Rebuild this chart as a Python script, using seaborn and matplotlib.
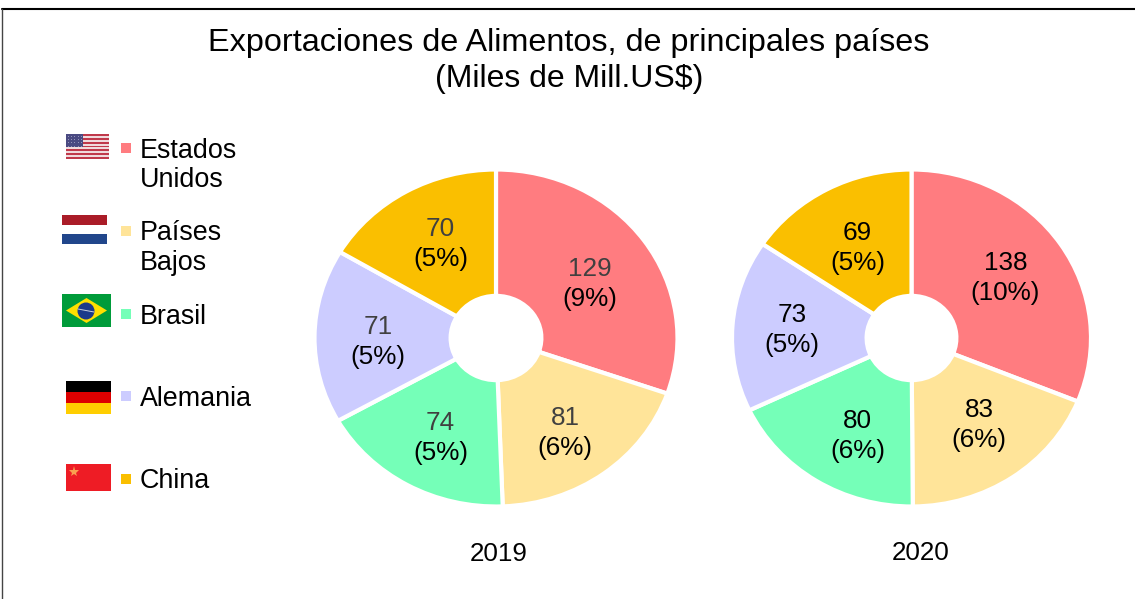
import matplotlib
matplotlib.use('Agg')
import numpy as np
import matplotlib.pyplot as plt
from matplotlib.patches import Rectangle, Polygon, Circle
import seaborn as sns

# data
paises = ['Estados\nUnidos', 'Países\nBajos', 'Brasil', 'Alemania', 'China']
valores_2019 = [129, 81, 74, 71, 70]
valores_2020 = [138, 83, 80, 73, 69]
pct_2019 = ['(9%)', '(6%)', '(5%)', '(5%)', '(5%)']
pct_2020 = ['(10%)', '(6%)', '(6%)', '(5%)', '(5%)']
colores = ['#FF7C80', '#FFE499', '#75FFB8', '#CCCCFF', '#FABF00']

W, H = 1135, 599

sns.set_theme(style='white')
plt.rcParams['font.family'] = ['Liberation Sans', 'DejaVu Sans']
paleta = sns.color_palette(colores)

fig = plt.figure(figsize=(W / 100, H / 100), dpi=100, facecolor='white')

# overlay in pixel coordinates, y going down
bg = fig.add_axes([0, 0, 1, 1])
bg.set_xlim(0, W)
bg.set_ylim(H, 0)
bg.axis('off')


def dona(cx, cy, rx, ry, valores, pct, color_num, ajustes):
    ax = fig.add_axes([(cx - rx) / W, 1 - (cy + ry) / H, 2 * rx / W, 2 * ry / H])
    wedges, _ = ax.pie(valores, colors=paleta, startangle=90, counterclock=False,
                       wedgeprops=dict(width=0.75, edgecolor='white', linewidth=3))
    ax.set_aspect('auto')
    ax.set_xlim(-1, 1)
    ax.set_ylim(-1, 1)
    for w, v, p, (dx, dy) in zip(wedges, valores, pct, ajustes):
        ang = np.radians((w.theta1 + w.theta2) / 2)
        x, y = 0.65 * np.cos(ang), 0.65 * np.sin(ang)
        # nudges are in pixels, converted to points
        ox, oy = dx * 0.72, -dy * 0.72
        ax.annotate(str(v), (x, y), xytext=(ox, oy + 10.8), textcoords='offset points',
                    ha='center', va='center', fontsize=18.8, color=color_num)
        ax.annotate(p, (x, y), xytext=(ox, oy - 10.8), textcoords='offset points',
                    ha='center', va='center', fontsize=18.8, color='black')


dona(496, 338, 181.5, 168.5, valores_2019, pct_2019, '#404040',
     [(-2, 9), (-1, 6.5), (2, 4.5), (0, 5.5), (3, 1.5)])
dona(911.5, 338, 179.5, 168.5, valores_2020, pct_2020, 'black',
     [(-3, 1), (2, -3.5), (8, 5.5), (-3, 0), (1, 7)])

bg.text(569, 43.5, 'Exportaciones de Alimentos, de principales países', ha='center', va='center',
        fontsize=23.3, color='black')
bg.text(569, 79.5, '(Miles de Mill.US$)', ha='center', va='center', fontsize=23, color='black')
bg.text(499, 554, '2019', ha='center', va='center', fontsize=18.7, color='black')
bg.text(921, 553, '2020', ha='center', va='center', fontsize=18.7, color='black')

# frame of the picture: only top and left are visible
bg.plot([1.5, 1135], [9, 9], color='black', lw=1.5, clip_on=False)
bg.plot([1.5, 1.5], [9, 599], color='#444444', lw=1, clip_on=False)

# legend
ley_y = [148, 231, 314, 396, 479]
for nombre, color, y in zip(paises, colores, ley_y):
    bg.add_patch(Rectangle((121, y - 5), 10, 10, color=color, lw=0))
    bg.text(140, y - 10.5, nombre, ha='left', va='top', fontsize=19.4, color='black', linespacing=1.17)


def franjas(x, y, w, h, cols):
    for i, c in enumerate(cols):
        bg.add_patch(Rectangle((x, y + i * h / len(cols)), w, h / len(cols), color=c, lw=0))


# flags
franjas(66, 134, 43, 25, ['#C0394B', '#F0DADD'] * 6 + ['#C0394B'])
bg.add_patch(Rectangle((66, 134), 17, 13, color='#4A4A82', lw=0))
for fila in range(4):
    for col in range(5):
        bg.plot(67.5 + col * 3.4, 136 + fila * 3.2, '.', ms=1.2, color='#A8A8C8', mew=0)
franjas(62, 215, 45, 29, ['#AA1C28', 'white', '#21468B'])
bg.add_patch(Rectangle((62, 294), 49, 33, color='#009B3A', lw=0))
bg.add_patch(Polygon([(66, 310.5), (86.5, 298), (107, 310.5), (86.5, 323)], color='#FEDF00', lw=0))
bg.add_patch(Circle((86, 311), 8.5, color='#1B3A8A', lw=0))
bg.plot([78, 94], [309, 312], color='#C8D0E0', lw=0.7)
franjas(66, 381, 45, 33, ['black', '#DD0000', '#FFCE00'])
bg.add_patch(Rectangle((66, 464), 45, 27, color='#EE1C25', lw=0))
bg.plot([74], [471.5], '*', ms=8, color='#F9A050', mew=0)

fig.savefig('out.png', dpi=100, facecolor='white')
plt.close()
